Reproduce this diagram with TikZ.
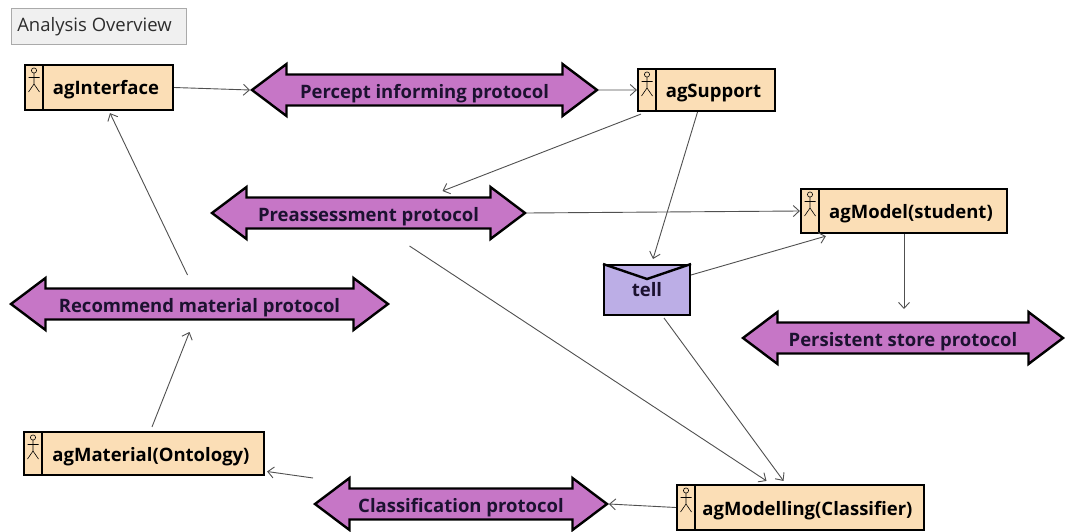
\documentclass[tikz,border=0pt]{standalone}
\usepackage{fontspec}
\setmainfont{Open Sans}
\usetikzlibrary{shapes.arrows,arrows.meta,calc}
\definecolor{peach}{RGB}{251,222,182}
\definecolor{orchid}{RGB}{198,118,198}
\definecolor{lavender}{RGB}{188,174,230}
\definecolor{textdark}{RGB}{28,18,48}
\definecolor{connc}{RGB}{80,80,80}
\definecolor{ovfill}{RGB}{240,240,240}
\definecolor{ovdraw}{RGB}{170,170,170}
\begin{document}
\begin{tikzpicture}[x=1pt,y=-1pt,
  lbl/.style={font=\bfseries\fontsize{18.5}{21}\selectfont},
  actor/.style={lbl, draw, line width=2.2pt, fill=peach, inner sep=0pt,
    text height=15pt, text depth=0pt,
    path picture={
      \coordinate (nw) at (path picture bounding box.north west);
      \coordinate (sw) at (path picture bounding box.south west);
      \draw[line width=1.6pt] ($(nw)+(18,0)$) -- ($(sw)+(18,0)$);
      \draw[line width=0.6pt] ($(nw)+(9,5.5)$) circle[radius=2.6pt];
      \draw[line width=0.6pt] ($(nw)+(9,8.1)$) -- ($(nw)+(9,19)$)
        ($(nw)+(3.5,12.5)$) -- ($(nw)+(14.5,12.5)$)
        ($(nw)+(3.5,27)$) -- ($(nw)+(9,19)$) -- ($(nw)+(14.5,27)$);
    }},
  proto/.style={lbl, double arrow, draw, line width=2.4pt, fill=orchid, text=textdark,
    double arrow head extend=10.5pt, double arrow tip angle=74,
    text height=17pt, text depth=0pt, inner ysep=5.8pt, inner xsep=0pt},
  conn/.style={draw=connc, line width=0.9pt, -{Straight Barb[length=6pt,width=11pt]}},
]
\useasboundingbox (0,0) rectangle (1065,532);
\fill[white] (0,0) rectangle (1065,532);

\node[draw=ovdraw, fill=ovfill, line width=1pt, minimum width=175pt, minimum height=36pt,
  font=\fontsize{18.5}{21}\selectfont, text={rgb,255:red,45;green,45;blue,45}] (ov) at (98.5,27) {Analysis Overview\hspace*{8pt}};

\node[actor, minimum width=148pt, minimum height=45pt] (agI) at (99,87.5) {\hspace*{14pt}agInterface};
\node[actor, minimum width=137pt, minimum height=42pt] (agS) at (706.5,90) {\hspace*{14pt}agSupport};
\node[actor, minimum width=206pt, minimum height=44pt] (agM) at (904,211) {\hspace*{14pt}agModel(student)};
\node[actor, minimum width=240pt, minimum height=43pt] (agMat) at (144,453.5) {\hspace*{14pt}agMaterial(Ontology)};
\node[actor, minimum width=247pt, minimum height=45pt] (agMg) at (800.5,507.5) {\hspace*{14pt}agModelling(Classifier)};

\node[proto, minimum height=345pt] (perc) at (424.5,90) {Percept informing protocol};
\node[proto, minimum height=313pt] (pre) at (368.5,213) {Preassessment protocol};
\node[proto, minimum height=320pt] (pers) at (903,338) {Persistent store protocol};
\node[proto, minimum height=377pt] (rec) at (199.5,304) {Recommend material protocol};
\node[proto, minimum height=292pt] (cls) at (461,504) {Classification protocol};

\node[lbl, draw, line width=2pt, fill=lavender, text=textdark, minimum width=86pt, minimum height=50pt, inner sep=0pt] (tell) at (647,290) {\raisebox{-5pt}{tell}};
\draw[line width=2.4pt] (tell.north west) -- ($(tell.north)+(0,15)$) -- (tell.north east);

\draw[conn] (agI.east) -- (perc.west);
\draw[conn] (perc.east) -- (agS.west);
\draw[conn] ($(agS.south west)+(4,2)$) -- ($(pre.center)+(74,-22)$);
\draw[conn] ($(agS.south)+(-9,0)$) -- ($(tell.north)+(6,-5)$);
\draw[conn] (pre.east) -- (agM.west);
\draw[conn] ($(tell.east)+(0,-15)$) -- ($(agM.south west)+(26,2)$);
\draw[conn] (agM.south) -- ($(pers.center)+(1,-29)$);
\draw[conn] ($(tell.south)+(17,2)$) -- ($(agMg.north)+(-17,-3)$);
\draw[conn] ($(pre.center)+(41,33)$) -- ($(agMg.north)+(-34,-3)$);
\draw[conn] ($(rec.center)+(-12,-29)$) -- ($(agI.south)+(11,2)$);
\draw[conn] ($(agMat.north)+(8,-4)$) -- ($(rec.center)+(-10,28)$);
\draw[conn] ($(cls.center)+(-148,-26)$) -- ($(agMat.east)+(2,18)$);
\draw[conn] (agMg.west) -- (cls.east);
\end{tikzpicture}
\end{document}
